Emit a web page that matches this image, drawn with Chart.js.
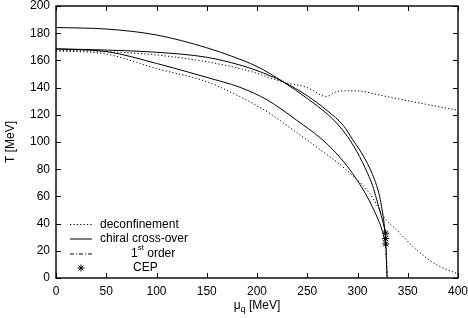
<!DOCTYPE html>
<html><head><meta charset="utf-8">
<script src="https://cdn.jsdelivr.net/npm/chart.js@4/dist/chart.umd.min.js"></script>
<style>html,body{margin:0;padding:0;background:#fff}canvas{display:block}</style>
</head><body>
<canvas id="c" width="468" height="318"></canvas>
<script>
// ---- data ----
const xTickValues = [0, 50, 100, 150, 200, 250, 300, 350, 400];
const yTickValues = [0, 20, 40, 60, 80, 100, 120, 140, 160, 180, 200];

// deconfinement, upper curve
const decUpperMu = [0, 50, 100, 150, 183, 200, 226, 250, 269, 279, 289, 305, 322, 355, 400];
const decUpperT  = [167.5, 166.5, 164, 159, 154, 150.5, 144, 140, 133.5, 137, 137.7, 137.2, 134.5, 129.6, 123.3];
// deconfinement, lower curve
const decLowerMu = [0, 50, 100, 150, 183, 210, 236, 261, 289, 312, 327.4, 339, 359, 379, 400];
const decLowerT  = [167, 164.7, 154, 144.3, 133.3, 122.3, 108.8, 95.4, 79.4, 62.3, 43.9, 35.3, 20.6, 9.6, 3];
// chiral cross-over, three curves
const chiralAMu = [0, 51, 100, 150, 175, 200, 226, 250, 270, 281, 290, 299, 305, 310, 315, 319, 322, 325, 328];
const chiralAT  = [184.2, 183, 178.7, 169.3, 163, 155.5, 144.3, 132, 120.5, 112.5, 104, 93.5, 85, 77, 68, 58, 50, 42, 33];
const chiralBMu = [0, 51, 100, 150, 183, 200, 226, 250, 270, 286, 295, 304, 310, 315, 319, 322, 324.5, 326.5, 328];
const chiralBT  = [168.5, 167.6, 166, 162.3, 156.6, 152.5, 144.3, 134, 123, 112, 102, 92, 84, 76, 68, 60, 50, 40, 29];
const chiralCMu = [0, 51, 100, 150, 183, 210, 239.5, 263, 276, 290, 300, 308, 315, 320, 325, 328];
const chiralCT  = [168.4, 166.4, 157.8, 147.5, 140.2, 131, 116, 103, 94, 82, 71.5, 62, 52, 44, 34, 25];
// critical end points
const cepMu = [328, 328, 328];
const cepT  = [33, 29, 25];
// first order lines end on the mu axis
const firstOrderEndMu = [329.5, 329.5, 329.5];
const firstOrderEndT  = [0, 0, 0];

const FONT = '"Liberation Sans", Arial, Helvetica, sans-serif';
const pts = (xs, ys) => xs.map((x, i) => ({x, y: ys[i]}));

const lineDs = (xs, ys, dash, w) => ({
  data: pts(xs, ys), showLine: true, borderColor: '#000', borderWidth: w || 1,
  borderDash: dash || [], pointRadius: 0, cubicInterpolationMode: 'monotone', fill: false
});

const datasets = [
  lineDs(decUpperMu, decUpperT, [1.2, 2.2]),
  lineDs(decLowerMu, decLowerT, [1.2, 2.2]),
  lineDs(chiralAMu, chiralAT),
  lineDs(chiralBMu, chiralBT),
  lineDs(chiralCMu, chiralCT),
];
cepMu.forEach((m, i) => {
  datasets.push({
    data: [{x: m, y: cepT[i]}, {x: firstOrderEndMu[i], y: firstOrderEndT[i]}],
    showLine: true, borderColor: '#000', borderWidth: 1, borderDash: [4, 2, 1, 2],
    pointRadius: 0, tension: 0
  });
});
datasets.push({
  data: pts(cepMu, cepT), showLine: false, pointStyle: 'star', pointRadius: 3.5,
  borderColor: '#000', backgroundColor: '#000', pointBorderWidth: 1
});

const framePlugin = {
  id: 'frame',
  afterDraw(chart) {
    const {ctx, chartArea: a, scales} = chart;
    ctx.save();
    ctx.strokeStyle = '#000';
    ctx.lineWidth = 1;
    const tl = 5;
    ctx.beginPath();
    xTickValues.forEach(v => {
      const px = Math.round(scales.x.getPixelForValue(v)) + 0.5;
      ctx.moveTo(px, a.bottom); ctx.lineTo(px, a.bottom - tl);
      ctx.moveTo(px, a.top); ctx.lineTo(px, a.top + tl);
    });
    yTickValues.forEach(v => {
      const py = Math.round(scales.y.getPixelForValue(v)) + 0.5;
      ctx.moveTo(a.left, py); ctx.lineTo(a.left + tl, py);
      ctx.moveTo(a.right, py); ctx.lineTo(a.right - tl, py);
    });
    ctx.stroke();
    ctx.lineWidth = 1.4;
    ctx.strokeRect(a.left, a.top, a.right - a.left, a.bottom - a.top);

    // x axis title with subscript
    ctx.fillStyle = '#000';
    ctx.textBaseline = 'alphabetic';
    const t1 = '\u03bc', t2 = 'q', t3 = ' [MeV]';
    ctx.font = '12px ' + FONT; const w1 = ctx.measureText(t1).width;
    ctx.font = '9px ' + FONT;  const w2 = ctx.measureText(t2).width;
    ctx.font = '12px ' + FONT; const w3 = ctx.measureText(t3).width;
    const cx = (a.left + a.right) / 2;
    let x0 = cx - (w1 + w2 + w3) / 2;
    const by = 309;
    ctx.font = '12px ' + FONT; ctx.fillText(t1, x0, by);
    ctx.font = '9px ' + FONT;  ctx.fillText(t2, x0 + w1, by + 3);
    ctx.font = '12px ' + FONT; ctx.fillText(t3, x0 + w1 + w2, by);

    // legend
    ctx.textBaseline = 'middle';
    ctx.textAlign = 'left';
    const sx0 = 70, sx1 = 92;
    const rows = [224.5, 239, 254, 268];
    ctx.lineWidth = 1;
    ctx.setLineDash([1.2, 2.2]);
    ctx.beginPath(); ctx.moveTo(sx0, rows[0]); ctx.lineTo(sx1, rows[0]); ctx.stroke();
    ctx.setLineDash([]);
    ctx.beginPath(); ctx.moveTo(sx0, rows[1]); ctx.lineTo(sx1, rows[1]); ctx.stroke();
    ctx.setLineDash([4, 2, 1, 2]);
    ctx.beginPath(); ctx.moveTo(sx0, rows[2]); ctx.lineTo(sx1, rows[2]); ctx.stroke();
    ctx.setLineDash([]);
    const sc = 81, r = 3.5;
    ctx.beginPath();
    ctx.moveTo(sc - r, rows[3]); ctx.lineTo(sc + r, rows[3]);
    ctx.moveTo(sc, rows[3] - r); ctx.lineTo(sc, rows[3] + r);
    const d = r * 0.7071;
    ctx.moveTo(sc - d, rows[3] - d); ctx.lineTo(sc + d, rows[3] + d);
    ctx.moveTo(sc - d, rows[3] + d); ctx.lineTo(sc + d, rows[3] - d);
    ctx.stroke();

    ctx.font = '12px ' + FONT;
    ctx.fillText('deconfinement', 100, rows[0]);
    ctx.fillText('chiral cross-over', 100, rows[1]);
    let fx = 131;
    ctx.fillText('1', fx, rows[2]); fx += ctx.measureText('1').width;
    ctx.font = '8px ' + FONT;
    ctx.fillText('st', fx, rows[2] - 6); fx += ctx.measureText('st').width;
    ctx.font = '12px ' + FONT;
    ctx.fillText(' order', fx, rows[2]);
    ctx.fillText('CEP', 133, rows[3]);
    ctx.restore();
  }
};

new Chart(document.getElementById('c'), {
  type: 'scatter',
  data: {datasets},
  options: {
    responsive: false, animation: false, devicePixelRatio: 1,
    layout: {padding: {top: 6, right: 10, left: 0, bottom: 0}},
    plugins: {legend: {display: false}, tooltip: {enabled: false}},
    scales: {
      x: {
        type: 'linear', min: 0, max: 400,
        afterBuildTicks: s => { s.ticks = xTickValues.map(v => ({value: v})); },
        afterFit: s => { s.height = 40; s.paddingLeft = 0; s.paddingRight = 0; },
        grid: {display: false, drawTicks: false}, border: {display: false},
        ticks: {color: '#000', font: {family: FONT, size: 12}, padding: 6, maxRotation: 0, autoSkip: false}
      },
      y: {
        type: 'linear', min: 0, max: 200,
        afterBuildTicks: s => { s.ticks = yTickValues.map(v => ({value: v})); },
        afterFit: s => { s.width = 56; s.paddingTop = 0; s.paddingBottom = 0; },
        grid: {display: false, drawTicks: false}, border: {display: false},
        title: {display: true, text: 'T [MeV]', color: '#000', font: {family: FONT, size: 12}, padding: {top: 3, bottom: 0}},
        ticks: {color: '#000', font: {family: FONT, size: 12}, padding: 6, autoSkip: false}
      }
    }
  },
  plugins: [framePlugin]
});
</script>
</body></html>
